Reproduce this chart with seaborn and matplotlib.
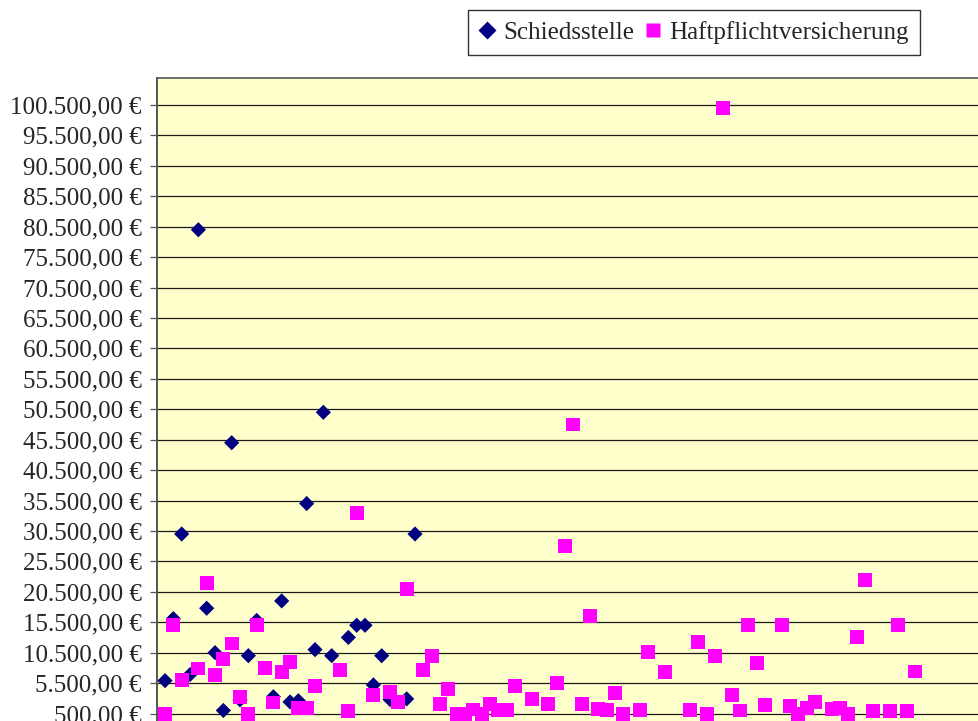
import numpy as np
import pandas as pd
import matplotlib
matplotlib.use("Agg")
import matplotlib.pyplot as plt
from matplotlib.lines import Line2D
import seaborn as sns

nan = np.nan

# Claim amounts per case (case number = position + 1)
schiedsstelle = [5900, 16100, 30000, 6900, 80000, 17800, 10500, 1000, 45000, 2750,
                 10000, 15800, nan, 3250, 19000, 2400, 2600, 35000, 11000, 50000,
                 10000, nan, 13000, 15000, 15000, 5200, 10000, 2800, nan, 2900,
                 30000]

haftpflicht = [450, 15000, 6000, nan, 7900, 22000, 6800, 9500, 12000, 3250,
               450, 15000, 8000, 2300, 7250, 9000, 1400, 1400, 5000, nan,
               nan, 7700, 900, 33500, nan, 3500, nan, 4000, 2350, 21000,
               nan, 7600, 10000, 2050, 4500, 450, 450, 1150, 450, 2000,
               1050, 1050, 5000, nan, 2950, nan, 2000, 5450, 28000, 48000,
               2000, 16500, 1300, 1050, 3900, 450, nan, 1050, 10600, nan,
               7250, nan, nan, 1050, 12200, 400, 10000, 100000, 3600, 1000,
               15000, 8800, 1900, nan, 15000, 1700, 400, 1400, 2400, nan,
               1250, 1400, 400, 13000, 22500, 950, nan, 950, 15000, 950,
               7400]

series_names = ["Schiedsstelle", "Haftpflichtversicherung"]
series_colors = {"Schiedsstelle": "#000080", "Haftpflichtversicherung": "#FF00FF"}
series_markers = {"Schiedsstelle": "D", "Haftpflichtversicherung": "s"}

y_ticks = list(range(500, 100501, 5000))

df_s = pd.DataFrame({"Fall": np.arange(1, len(schiedsstelle) + 1), "Betrag": schiedsstelle})
df_h = pd.DataFrame({"Fall": np.arange(1, len(haftpflicht) + 1), "Betrag": haftpflicht})


def euro(v):
    s = f"{v:,.2f}".replace(",", "X").replace(".", ",").replace("X", ".")
    return s + " €"


sns.set_theme(style="white")
plt.rcParams["font.family"] = ["Liberation Serif", "DejaVu Serif"]

W, H = 979, 721
fig = plt.figure(figsize=(W / 100, H / 100), dpi=100)
fig.patch.set_facecolor("white")

# plot area: left edge at x=156.7 px, top at y=78 px, 8.333 px per case
px_per_case = 8.333
ax_left = 156.7
ax_top = 78
ax = fig.add_axes([ax_left / W, 0, 100 * px_per_case / W, (H - ax_top) / H])
ax.set_facecolor("#FFFFCC")

sns.scatterplot(data=df_s, x="Fall", y="Betrag", ax=ax, marker="D", s=60,
                color=series_colors["Schiedsstelle"], edgecolor="none",
                linewidth=0, zorder=3, legend=False)
sns.scatterplot(data=df_h, x="Fall", y="Betrag", ax=ax, marker="s", s=100,
                color=series_colors["Haftpflichtversicherung"], edgecolor="none",
                linewidth=0, zorder=4, legend=False)

# value scale: 500 at y=713.5 px, 100.500 at y=105 px
per_px = 100000 / (713.5 - 105)
ax.set_ylim(500 - (H - 713.5) * per_px, 100500 + (105 - ax_top) * per_px)
ax.set_xlim(0, 100)

ax.set_yticks(y_ticks)
ax.set_yticklabels([euro(v) for v in y_ticks])
ax.set_xticks([])
ax.set_xlabel("")
ax.set_ylabel("")
ax.yaxis.grid(True, color="#1a1a1a", linewidth=0.9)
ax.set_axisbelow(True)
ax.tick_params(axis="y", which="major", direction="out", length=5, width=0.9,
               color="#555555", pad=6, labelsize=18, left=True)

for side in ["right", "bottom"]:
    ax.spines[side].set_visible(False)
ax.spines["left"].set_color("#555555")
ax.spines["left"].set_linewidth(1.4)
ax.spines["top"].set_color("#555555")
ax.spines["top"].set_linewidth(1.2)

handles = [Line2D([0], [0], marker=series_markers[n], linestyle="none",
                  markerfacecolor=series_colors[n], markeredgecolor="none",
                  markersize=9 if n == "Schiedsstelle" else 10)
           for n in series_names]
leg = fig.legend(handles, series_names, loc="upper right",
                 bbox_to_anchor=(920 / W, 1 - 10 / H), frameon=True,
                 fontsize=18, handlelength=0.6, handletextpad=0.35,
                 columnspacing=0.45, ncol=2, borderpad=0.45, fancybox=False,
                 borderaxespad=0)
leg.get_frame().set_edgecolor("black")
leg.get_frame().set_linewidth(1.0)

fig.savefig("out.png", dpi=100)
